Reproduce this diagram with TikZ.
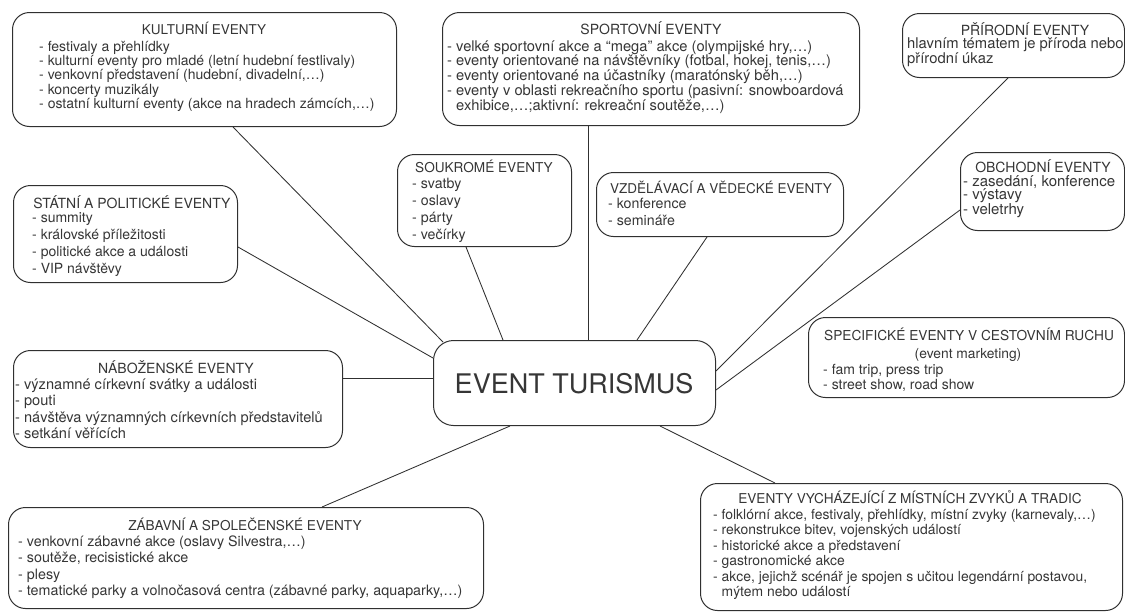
\documentclass[tikz,border=0pt]{standalone}
\usepackage{fontspec}
\setmainfont{TeX Gyre Heros}
\definecolor{ink}{HTML}{303030}
\definecolor{txt}{HTML}{363636}
\newcommand\fsz[2]{\fontsize{#1}{#2}\selectfont}
\newcommand\ind{\phantom{- }}
\tikzset{
  frame/.style={draw=ink, line width=1pt, rounded corners=17pt, inner sep=0pt, anchor=north west},
  link/.style={draw=ink, line width=0.85pt},
  ttl/.style={anchor=base, inner sep=0pt, text=txt},
  body/.style={anchor=base west, inner sep=0pt, text=txt},
}
\begin{document}
\begin{tikzpicture}[x=1pt, y=-1pt]
\useasboundingbox[fill=white] (0,0) rectangle (1125,611);

% ---------- frames ----------
\node[frame, minimum width=384pt, minimum height=114pt] (kultB) at (12,12) {};
\node[frame, minimum width=417pt, minimum height=113pt] (sportB) at (442,12) {};
\node[frame, minimum width=222pt, minimum height=64pt] (prirB) at (902,13) {};
\node[frame, minimum width=174pt, minimum height=92pt] (soukB) at (397,154) {};
\node[frame, minimum width=247pt, minimum height=64pt] (vzdB) at (596,172) {};
\node[frame, minimum width=164pt, minimum height=78pt] (obchB) at (960,152) {};
\node[frame, minimum width=224pt, minimum height=97pt] (statB) at (13,185) {};
\node[frame, minimum width=329pt, minimum height=97pt] (nabB) at (13,350) {};
\node[frame, minimum width=282pt, minimum height=85pt, rounded corners=20pt] (cent) at (433,340) {};
\node[frame, minimum width=316pt, minimum height=80pt] (specB) at (808,317) {};
\node[frame, minimum width=475pt, minimum height=101pt] (zabB) at (8,507) {};
\node[frame, minimum width=422pt, minimum height=127pt] (tradB) at (700,483) {};

% ---------- centre ----------
\node[anchor=center, inner sep=0pt, text=txt, font=\fsz{27}{30}] (centT) at (574,384) {EVENT TURISMUS};

% ---------- titles ----------
\node[ttl, font=\fsz{13.5}{14}] (kultT) at (204,34) {KULTURNÍ EVENTY};
\node[ttl, font=\fsz{14}{14}] (sportT) at (651,34) {SPORTOVNÍ EVENTY};
\node[ttl, font=\fsz{14}{14}] (prirT) at (1025,35) {PŘÍRODNÍ EVENTY};
\node[ttl, font=\fsz{13.6}{14}] (soukT) at (484,172) {SOUKROMÉ EVENTY};
\node[ttl, font=\fsz{13.5}{14}] (vzdT) at (721,193) {VZDĚLÁVACÍ A VĚDECKÉ EVENTY};
\node[ttl, font=\fsz{14}{14}] (obchT) at (1043,172) {OBCHODNÍ EVENTY};
\node[ttl, font=\fsz{14}{14}] (statT) at (132,208) {STÁTNÍ A POLITICKÉ EVENTY};
\node[ttl, font=\fsz{14}{14}] (nabT) at (176,373) {NÁBOŽENSKÉ EVENTY};
\node[ttl, font=\fsz{13.7}{14}] (specT) at (969,340) {SPECIFICKÉ EVENTY V CESTOVNÍM RUCHU};
\node[ttl, font=\fsz{13.8}{14}] (specS) at (968,358) {(event marketing)};
\node[ttl, font=\fsz{13.6}{14}] (zabT) at (245,530) {ZÁBAVNÍ A SPOLEČENSKÉ EVENTY};
\node[ttl, font=\fsz{13.6}{14}] (tradT) at (910,503) {EVENTY VYCHÁZEJÍCÍ Z MÍSTNÍCH ZVYKŮ A TRADIC};

% ---------- item lists ----------
\node[body] (kultL) at (39,51) {\parbox[t]{400pt}{\fsz{14}{14.4}\raggedright
- festivaly a přehlídky\\
- kulturní eventy pro mladé (letní hudební festlivaly)\\
- venkovní představení (hudební, divadelní,…)\\
- koncerty muzikály\\
- ostatní kulturní eventy (akce na hradech zámcích,…)}};

\node[body] (sportL) at (447,51) {\parbox[t]{440pt}{\fsz{14.7}{13.4}\raggedright
- velké sportovní akce a “mega” akce (olympijské hry,…)\\
- eventy orientované na návštěvníky (fotbal, hokej, tenis,…)\\
- eventy orientované na účastníky (maratónský běh,…)\\
- eventy v oblasti rekreačního sportu (pasivní: snowboardová\\
\ind exhibice,…;aktivní: rekreační soutěže,…)}};

\node[body] (prirL) at (907,48) {\parbox[t]{300pt}{\fsz{14.8}{13.4}\raggedright
hlavním tématem je příroda nebo\\
přírodní úkaz}};

\node[body] (obchL) at (963,186) {\parbox[t]{200pt}{\fsz{15}{13.3}\raggedright
- zasedání, konference\\
- výstavy\\
- veletrhy}};

\node[body] (soukL) at (412,188) {\parbox[t]{200pt}{\fsz{14.2}{17}\raggedright
- svatby\\
- oslavy\\
- párty\\
- večírky}};

\node[body] (vzdL) at (608,208) {\parbox[t]{200pt}{\fsz{14.2}{17.5}\raggedright
- konference\\
- semináře}};

\node[body] (statL) at (32,222) {\parbox[t]{260pt}{\fsz{14}{17}\raggedright
- summity\\
- královské příležitosti\\
- politické akce a události\\
- VIP návštěvy}};

\node[body] (nabL) at (15,389) {\parbox[t]{360pt}{\fsz{14.6}{16.5}\raggedright
- významné církevní svátky a události\\
- pouti\\
- návštěva významných církevních představitelů\\
- setkání věřících}};

\node[body] (specL) at (823,374) {\parbox[t]{300pt}{\fsz{14}{15.5}\raggedright
- fam trip, press trip\\
- street show, road show}};

\node[body] (zabL) at (18,546) {\parbox[t]{480pt}{\fsz{14.3}{16.5}\raggedright
- venkovní zábavné akce (oslavy Silvestra,…)\\
- soutěže, recisistické akce\\
- plesy\\
- tematické parky a volnočasová centra (zábavné parky, aquaparky,…)}};

\node[body] (tradL) at (713,519) {\parbox[t]{420pt}{\fsz{13.9}{15.5}\raggedright
- folklórní akce, festivaly, přehlídky, místní zvyky (karnevaly,…)\\
- rekonstrukce bitev, vojenských událostí\\
- historické akce a představení\\
- gastronomické akce\\
- akce, jejichž scénář je spojen s učitou legendární postavou,\\
\ind mýtem nebo událostí}};

% ---------- connectors ----------
\draw[link] ([xshift=221pt]kultB.south west) -- ([xshift=10pt,yshift=-2pt]cent.north west);
\draw[link] ([yshift=-62pt]statB.north east) -- ([yshift=-18pt]cent.north west);
\draw[link] ([yshift=-28pt]nabB.north east) -- ([yshift=-38pt]cent.north west);
\draw[link] ([xshift=69pt]soukB.south west) -- ([xshift=70pt]cent.north west);
\draw[link] ([xshift=146pt]sportB.south west) -- ([xshift=155pt]cent.north west);
\draw[link] ([xshift=111pt]vzdB.south west) -- ([xshift=204pt]cent.north west);
\draw[link] ([xshift=106pt]prirB.south west) -- ([yshift=-31pt]cent.north east);
\draw[link] ([yshift=-58pt]obchB.north west) -- ([yshift=-50pt]cent.north east);
\draw[link] ([xshift=314pt]zabB.north west) -- ([xshift=77pt]cent.south west);
\draw[link] ([xshift=75pt]tradB.north west) -- ([xshift=227pt]cent.south west);
\end{tikzpicture}
\end{document}
